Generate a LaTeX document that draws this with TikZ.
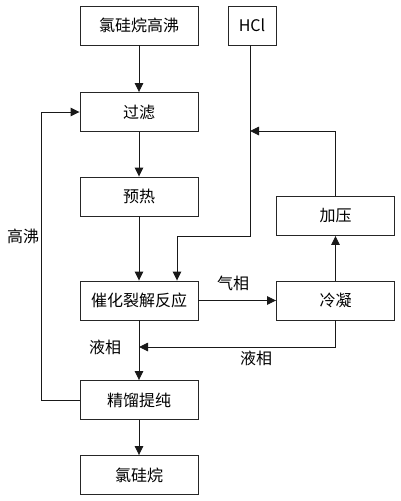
\documentclass[tikz,border=0pt]{standalone}
\usepackage{fontspec}
\setmainfont{Noto Sans CJK SC}
\usetikzlibrary{arrows.meta}
\begin{document}
\begin{tikzpicture}[x=1pt,y=-1pt,
  box/.style={draw=black!85, line width=0.9pt, minimum height=39pt, inner sep=0pt, font=\fontsize{16}{19}\selectfont},
  lbl/.style={font=\fontsize{16}{19}\selectfont, inner sep=0pt},
  conn/.style={draw=black!90, line width=0.9pt, -{Triangle[length=9pt,width=8.5pt]}},
  plain/.style={draw=black!90, line width=0.9pt}]
\useasboundingbox (0,0) rectangle (400,501);
\node[box, minimum width=118pt] (src) at (139,25.5) {氯硅烷高沸};
\node[box, minimum width=48pt] (hcl) at (252,25.5) {HCl};
\node[box, minimum width=118pt] (filt) at (139,112) {过滤};
\node[box, minimum width=118pt] (pre) at (139,196.5) {预热};
\node[box, minimum width=118pt] (press) at (335.5,216) {加压};
\node[box, minimum width=118pt] (react) at (139,300.5) {催化裂解反应};
\node[box, minimum width=118pt] (cond) at (335.5,300.5) {冷凝};
\node[box, minimum width=118pt] (dist) at (139,400) {精馏提纯};
\node[box, minimum width=118pt] (prod) at (139,475) {氯硅烷};
\coordinate (hclturn) at (250,236);
\coordinate (hclin) at (177,236);
\coordinate (ret) at (250,131);
\coordinate (liq) at (139,347);
\coordinate (loopb) at (41,400);
\coordinate (loopt) at (41,112);
\draw[conn] (src) -- (filt);
\draw[conn] (filt) -- (pre);
\draw[conn] (pre) -- (react);
\draw[conn] (react) -- (dist);
\draw[conn] (dist) -- (prod);
\draw[plain] (hcl.south -| hclturn) -- (hclturn) -- (hclin);
\draw[conn] (hclin) -- (hclin |- react.north);
\draw[conn] (press.north) |- (ret);
\draw[conn] (cond) -- (press);
\draw[conn] (react) -- (cond);
\draw[conn] (cond.south) |- (liq);
\draw[conn] (dist.west) -| (loopt) -- (filt.west);
\node[lbl] (gas) at (233,283) {气相};
\node[lbl] (liq1) at (105,347) {液相};
\node[lbl] (liq2) at (256,358) {液相};
\node[lbl] (hb) at (23,236) {高沸};
\end{tikzpicture}
\end{document}
